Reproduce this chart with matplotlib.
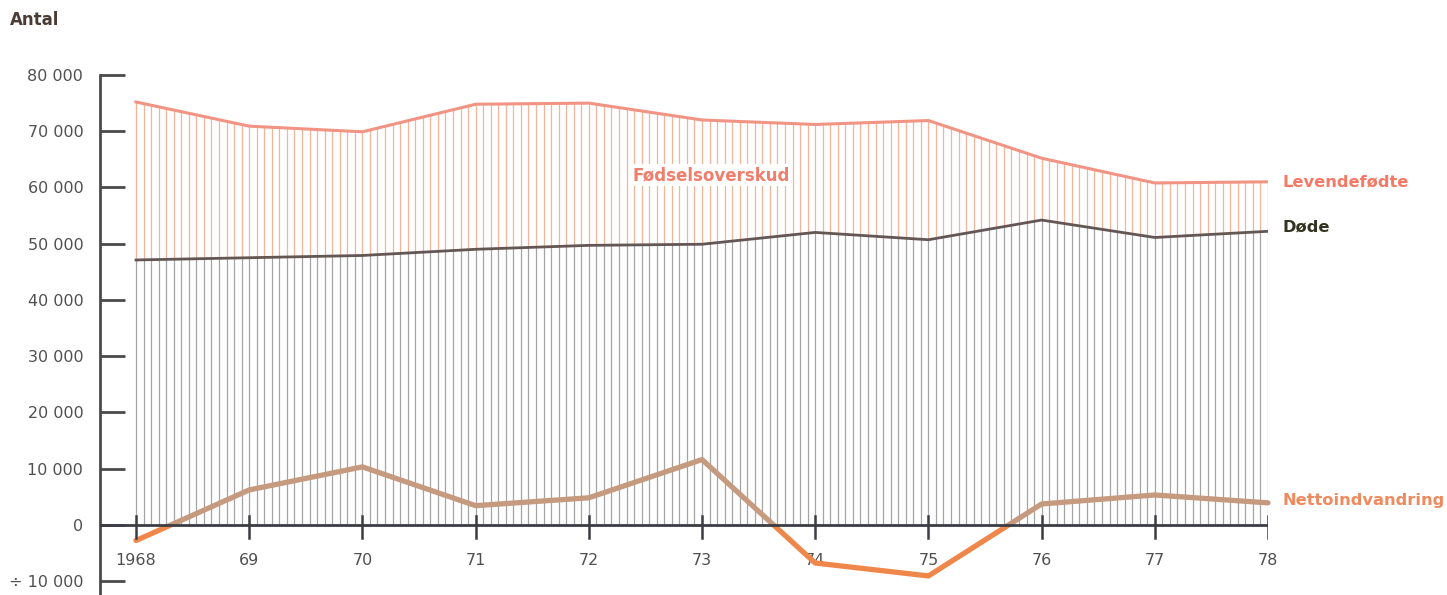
import numpy as np
import matplotlib
matplotlib.use("Agg")
import matplotlib.pyplot as plt
from matplotlib.patches import Rectangle

# Data
years = np.arange(1968, 1979)
levendefodte = [75200, 70900, 69900, 74800, 75000, 72000, 71200, 71900, 65200, 60800, 61000]
dode = [47100, 47500, 47900, 49000, 49700, 49900, 52000, 50700, 54200, 51100, 52200]
nettoindvandring = [-2800, 6200, 10300, 3400, 4800, 11600, -6800, -9100, 3700, 5300, 3900]
xticklabels = ["1968", "69", "70", "71", "72", "73", "74", "75", "76", "77", "78"]
yticks = [-10000, 0, 10000, 20000, 30000, 40000, 50000, 60000, 70000, 80000]
yticklabels = ["÷ 10 000", "0", "10 000", "20 000", "30 000", "40 000",
               "50 000", "60 000", "70 000", "80 000"]

W, H = 1447, 595
fig = plt.figure(figsize=(W / 100, H / 100), dpi=100)
# axes placed in pixel coordinates: spine at x=100, plot ends at 1978 (x=1268)
ax = fig.add_axes([100 / W, 0, 1168 / W, (H - 75) / H])
px_year = (1268 - 136) / 10
ax.set_xlim(1968 - 36 / px_year, 1978)
px_k = (525 - 75) / 80
ax.set_ylim(-10000 - (595 - 581) / px_k * 1000, 80000)

# vertical hatching (15 lines per year)
xs = np.linspace(1968, 1978, 151)
births_i = np.interp(xs, years, levendefodte)
deaths_i = np.interp(xs, years, dode)
ax.vlines(xs, 0, deaths_i, color="#a4a4a4", lw=0.9, zorder=1)
ax.vlines(xs, deaths_i, births_i, color="#f4b49a", lw=0.9, zorder=1)

ax.plot(years, levendefodte, color="#f29484", lw=2.2, zorder=3)
ax.plot(years, dode, color="#645654", lw=2.0, zorder=3)

# net migration: tan above zero, orange below
lo = ax.get_ylim()[0]
for ymin, ymax, col in [(0, 90000, "#c69a7e"), (lo, 0, "#f0874a")]:
    ln, = ax.plot(years, nettoindvandring, color=col, lw=3.8, zorder=4,
                  solid_capstyle="round")
    clip = Rectangle((1960, ymin), 30, ymax - ymin, transform=ax.transData)
    ln.set_clip_path(clip)

# zero line and year ticks
ax.axhline(0, color="#3c3c44", lw=2.0, zorder=5)
for x, lab in zip(years, xticklabels):
    ax.plot([x, x], [-2400, 1600], color="#3c3c44", lw=1.8, zorder=5)
    ax.text(x, -6400, lab, ha="center", va="center",
            fontsize=11.5, color="#505050")

# y axis
for s in ["top", "right", "bottom"]:
    ax.spines[s].set_visible(False)
ax.spines["left"].set_color("#4a4a4a")
ax.spines["left"].set_linewidth(2)
ax.set_xticks([])
ax.set_yticks(yticks)
ax.set_yticklabels(yticklabels, fontsize=11.5, color="#505050")
ax.tick_params(axis="y", direction="in", length=18, width=2, color="#4a4a4a", pad=12)

ax.text(1978.13, 60900, "Levendefødte", color="#f27a66", fontsize=11.7,
        fontweight="bold", va="center", ha="left", clip_on=False)
ax.text(1978.13, 53000, "Døde", color="#333322", fontsize=11.7,
        fontweight="bold", va="center", ha="left", clip_on=False)
ax.text(1978.13, 4300, "Nettoindvandring", color="#ef8a5e", fontsize=11.7,
        fontweight="bold", va="center", ha="left", clip_on=False)
ax.text(1973.08, 62200, "Fødselsoverskud", color="#f07e6c", fontsize=12,
        fontweight="bold", va="center", ha="center", zorder=6,
        bbox=dict(facecolor="white", edgecolor="none", pad=1.5))

fig.text(10 / W, 1 - 20 / H, "Antal", fontsize=12, fontweight="bold",
         color="#4a3c34", va="center", ha="left")

fig.savefig("out.png", dpi=100)
